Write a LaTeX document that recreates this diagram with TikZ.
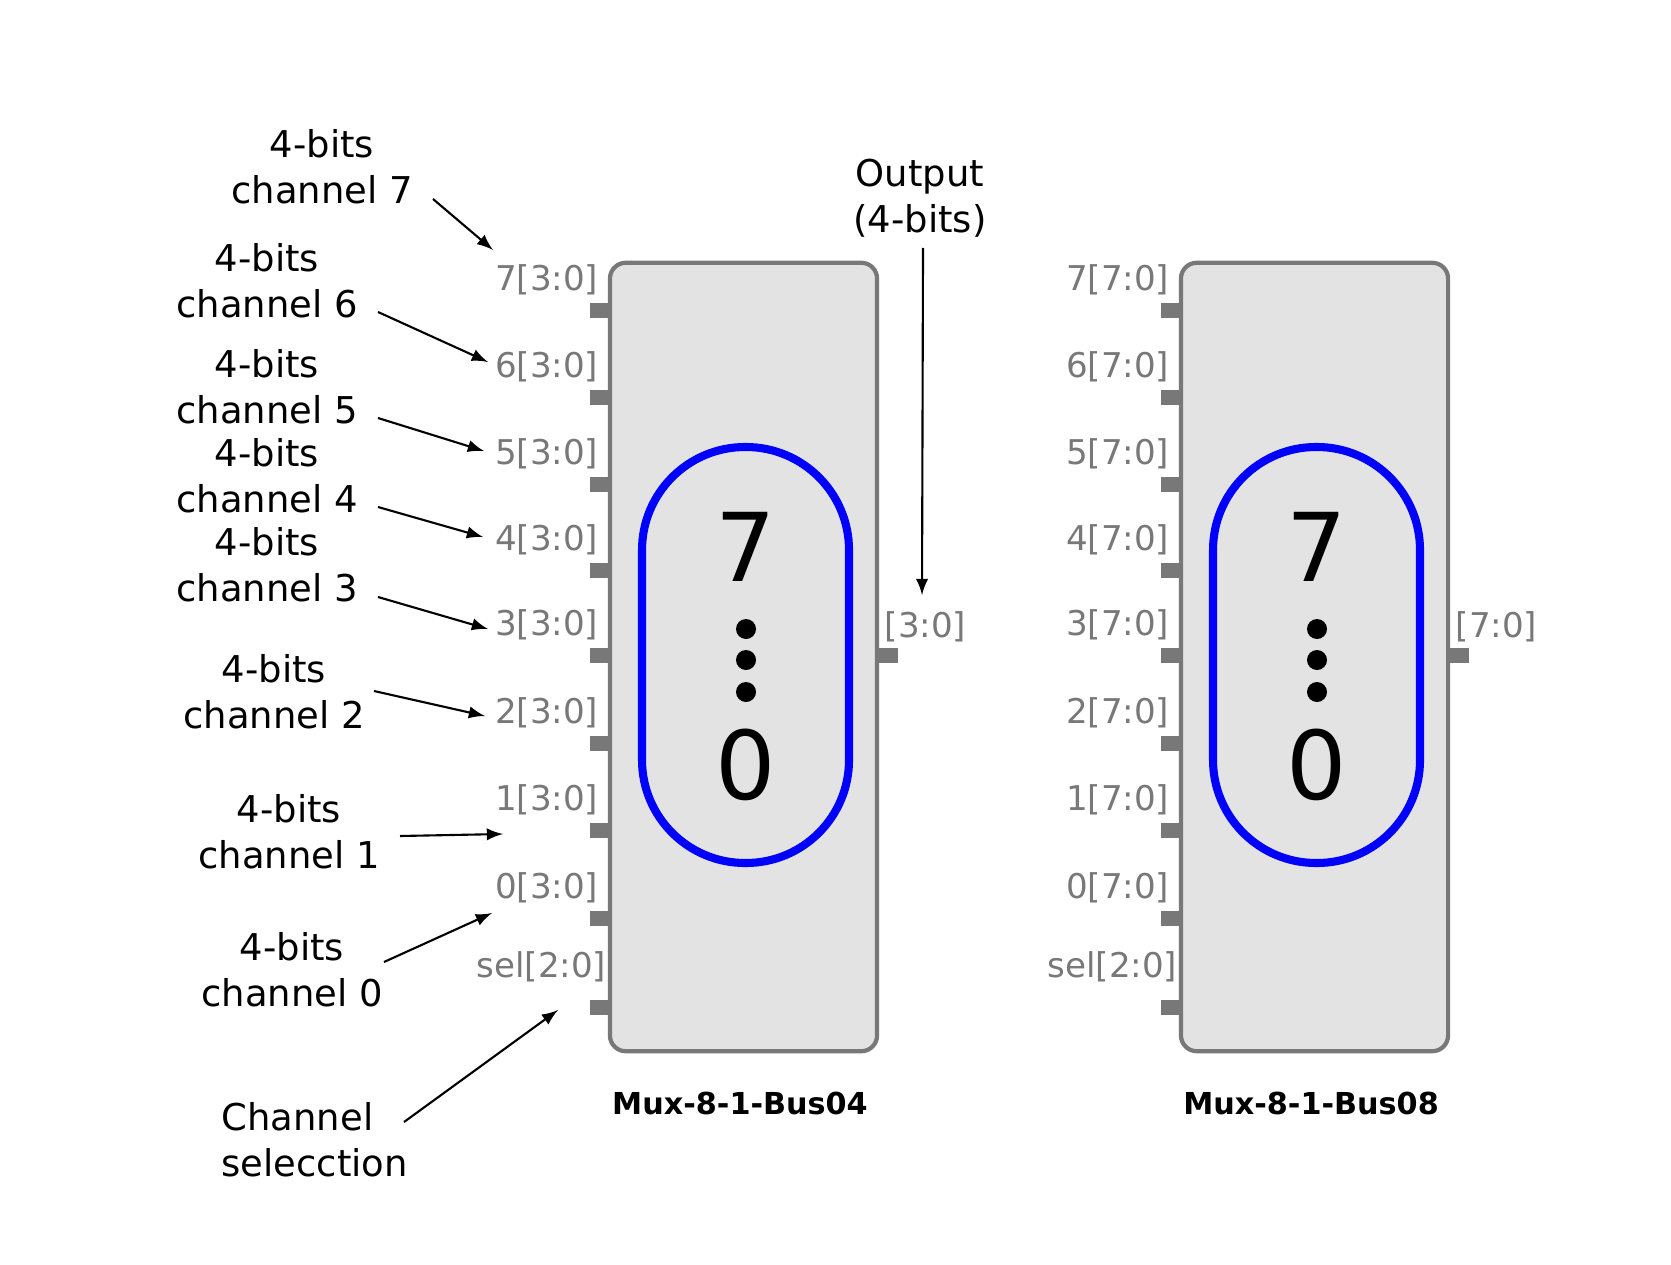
\documentclass[tikz,border=0pt]{standalone}
\usepackage{fontspec}
\setmainfont{DejaVu Sans}
\usetikzlibrary{arrows}
\definecolor{pingray}{RGB}{120,120,120}
\definecolor{boxfill}{RGB}{227,227,227}
\definecolor{selblue}{RGB}{0,0,255}

\tikzset{
  note/.style={align=center, inner sep=0pt, font=\fontsize{10.5}{13.1}\selectfont},
  pinlabel/.style={text=pingray, inner sep=0pt, font=\fontsize{9.7}{11}\selectfont},
  muxbox/.style={draw=pingray, fill=boxfill, line width=1.2pt, rounded corners=4.5pt,
    minimum width=2.67cm, minimum height=7.88cm},
  arr/.style={-latex, line width=0.6pt},
}

\begin{document}
\begin{tikzpicture}[x=0.01cm,y=-0.01cm]
\useasboundingbox (0,0) rectangle (1671,1264);

% the two multiplexers
\foreach \dx/\w/\name in {0/3/Bus04, 571/7/Bus08}{
\begin{scope}[shift={(\dx,0)}]
\node[muxbox] (mux\name) at (743.5,657) {};

\foreach \i/\y in {7/310, 6/397, 5/484, 4/570, 3/655, 2/743, 1/830, 0/918}{
  \fill[pingray] (590,\y-7.5) rectangle (610,\y+7.5);
  \node[pinlabel, anchor=east] (in\i\name) at (599,\y-30) {\i[\w:0]};
}
\fill[pingray] (590,999.5) rectangle (610,1014.5);
\node[pinlabel, anchor=east] (sel\name) at (607,967) {sel[2:0]};

\fill[pingray] (877,647.5) rectangle (898,662.5);
\node[pinlabel, anchor=west] (out\name) at (884,627) {[\w:0]};

\draw[selblue, line width=2.3pt, rounded corners=29.3pt] (642,447) rectangle (849,863);
\node[font=\fontsize{27}{27}\selectfont] (hi\name) at (746,547) {7};
\node[font=\fontsize{27}{27}\selectfont] (lo\name) at (746,765) {0};
\fill (746,629) circle (10);
\fill (746,660) circle (10);
\fill (746,692) circle (10);

\node[font=\bfseries\fontsize{8.6}{8.6}\selectfont] (title\name) at (740,1103) {Mux-8-1-\name};
\end{scope}
}

% notes
\node[note] (ch7) at (322,167) {4-bits\\channel 7};
\node[note] (ch6) at (267,281) {4-bits\\channel 6};
\node[note] (ch5) at (267,387) {4-bits\\channel 5};
\node[note] (ch4) at (267,476) {4-bits\\channel 4};
\node[note] (ch3) at (267,565) {4-bits\\channel 3};
\node[note] (ch2) at (274,692) {4-bits\\channel 2};
\node[note] (ch1) at (289,832) {4-bits\\channel 1};
\node[note] (ch0) at (292,970) {4-bits\\channel 0};
\node[note, align=left, anchor=west] (chsel) at (221,1140) {Channel\\selecction};
\node[note] (outnote) at (920,198) {Output\\(4-bits)};

\coordinate (t7) at (433,199);   \coordinate (h7) at (493,250);
\coordinate (t6) at (378,312);   \coordinate (h6) at (488,362);
\coordinate (t5) at (378,418);   \coordinate (h5) at (484,451);
\coordinate (t4) at (378,507);   \coordinate (h4) at (483,537);
\coordinate (t3) at (378,597);   \coordinate (h3) at (488,629);
\coordinate (t2) at (374,691);   \coordinate (h2) at (485,716);
\coordinate (t1) at (400,836);   \coordinate (h1) at (503,834);
\coordinate (t0) at (384,962);   \coordinate (h0) at (492,913);
\coordinate (ts) at (404,1122);  \coordinate (hs) at (558,1010);
\coordinate (to) at (923,248);   \coordinate (ho) at (922,595);

\foreach \k in {7,6,5,4,3,2,1,0,s,o}
  \draw[arr] (t\k) -- (h\k);
\end{tikzpicture}
\end{document}
